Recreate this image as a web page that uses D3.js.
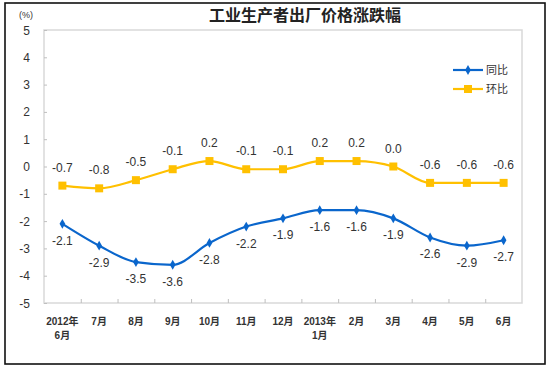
<!DOCTYPE html>
<html><head><meta charset="utf-8">
<script src="https://cdn.jsdelivr.net/npm/d3@7"></script>
<style>body{margin:0;background:#fff}svg{display:block}</style>
</head><body>
<script>
const categories = ["2012年\n6月","7月","8月","9月","10月","11月","12月","2013年\n1月","2月","3月","4月","5月","6月"];
const tongbi = [-2.1,-2.9,-3.5,-3.6,-2.8,-2.2,-1.9,-1.6,-1.6,-1.9,-2.6,-2.9,-2.7];
const huanbi = [-0.7,-0.8,-0.5,-0.1,0.2,-0.1,-0.1,0.2,0.2,0.0,-0.6,-0.6,-0.6];
const yTicks = [5,4,3,2,1,0,-1,-2,-3,-4,-5];
const seriesNames = ["同比","环比"];

const W=550,H=369;
const svg=d3.select("body").append("svg").attr("width",W).attr("height",H);
const font="'Liberation Sans','Noto Sans CJK SC',Arial,sans-serif";
svg.append("rect").attr("x",5).attr("y",3).attr("width",540).attr("height",361)
  .attr("fill","#fff").attr("stroke","#111").attr("stroke-width",1.6);

const L=44,R=522,T=30,B=303;
const x=d3.scaleBand().domain(d3.range(categories.length)).range([L,R]);
const y=d3.scaleLinear().domain([-5,5]).range([B,T]);
const cx=i=>x(i)+x.bandwidth()/2;

// frame
svg.append("rect").attr("x",L).attr("y",T).attr("width",R-L).attr("height",B-T)
  .attr("fill","none").attr("stroke","#d9d9d9").attr("stroke-width",1.5);

// y axis
const ya=svg.append("g").attr("transform",`translate(${L},0)`)
  .call(d3.axisRight(y).tickValues(yTicks).tickSize(3).tickFormat(""));
ya.select(".domain").remove();
ya.selectAll("line").attr("stroke","#bfbfbf");
svg.selectAll(".ylab").data(yTicks).enter().append("text")
  .attr("x",30).attr("y",d=>y(d)+4.5).attr("text-anchor","end")
  .attr("font-family",font).attr("font-size",12).attr("fill","#333").text(d=>d);

// x axis ticks at boundaries
const xa=svg.append("g").attr("transform",`translate(0,${B})`)
  .call(d3.axisTop(d3.scaleLinear().domain([0,categories.length]).range([L,R]))
    .tickValues(d3.range(1,categories.length)).tickSize(4).tickFormat(""));
xa.select(".domain").remove();
xa.selectAll("line").attr("stroke","#bfbfbf");
categories.forEach((c,i)=>{
  const lines=c.split("\n");
  const t=svg.append("text").attr("text-anchor","middle").attr("font-family",font)
    .attr("font-size",10).attr("font-weight","bold").attr("fill","#333");
  lines.forEach((ln,j)=>t.append("tspan").attr("x",cx(i)).attr("y",325+j*14).text(ln));
});

svg.append("text").attr("x",26).attr("y",18).attr("text-anchor","middle")
  .attr("font-family",font).attr("font-size",9).attr("fill","#333").text("(%)");
svg.append("text").attr("x",305).attr("y",21).attr("text-anchor","middle")
  .attr("font-family","'Noto Sans CJK SC',sans-serif").attr("font-size",16)
  .attr("font-weight","bold").attr("fill","#222").text("工业生产者出厂价格涨跌幅");

const line=d3.line().x((d,i)=>cx(i)).y(d=>y(d)).curve(d3.curveMonotoneX);
const blue="#0A66CC", gold="#FFC000";
svg.append("path").attr("d",line(huanbi)).attr("fill","none").attr("stroke",gold).attr("stroke-width",2.2);
svg.append("path").attr("d",line(tongbi)).attr("fill","none").attr("stroke",blue).attr("stroke-width",2.2);

svg.selectAll(".sq").data(huanbi).enter().append("rect")
  .attr("x",(d,i)=>cx(i)-4).attr("y",d=>y(d)-4).attr("width",8).attr("height",8).attr("fill",gold);
const diamond=d3.symbol().type(d3.symbolDiamond).size(28);
svg.selectAll(".dm").data(tongbi).enter().append("path")
  .attr("d",diamond).attr("transform",(d,i)=>`translate(${cx(i)},${y(d)})`).attr("fill",blue);

svg.selectAll(".hl").data(huanbi).enter().append("text")
  .attr("x",(d,i)=>cx(i)).attr("y",d=>y(d)-14).attr("text-anchor","middle")
  .attr("font-family",font).attr("font-size",12).attr("fill","#333").text(d=>d.toFixed(1));
svg.selectAll(".tl").data(tongbi).enter().append("text")
  .attr("x",(d,i)=>cx(i)).attr("y",d=>y(d)+21).attr("text-anchor","middle")
  .attr("font-family",font).attr("font-size",12).attr("fill","#333").text(d=>d.toFixed(1));

// legend
const lg=[{n:seriesNames[0],c:blue,t:"d",y:70},{n:seriesNames[1],c:gold,t:"s",y:89}];
lg.forEach(l=>{
  svg.append("line").attr("x1",453).attr("x2",483).attr("y1",l.y).attr("y2",l.y).attr("stroke",l.c).attr("stroke-width",2.2);
  if(l.t==="d") svg.append("path").attr("d",diamond).attr("transform",`translate(468,${l.y})`).attr("fill",l.c);
  else svg.append("rect").attr("x",464).attr("y",l.y-4).attr("width",8).attr("height",8).attr("fill",l.c);
  svg.append("text").attr("x",486).attr("y",l.y+4).attr("font-family","'Noto Sans CJK SC',sans-serif")
    .attr("font-size",11).attr("fill","#333").text(l.n);
});
</script>
</body></html>
